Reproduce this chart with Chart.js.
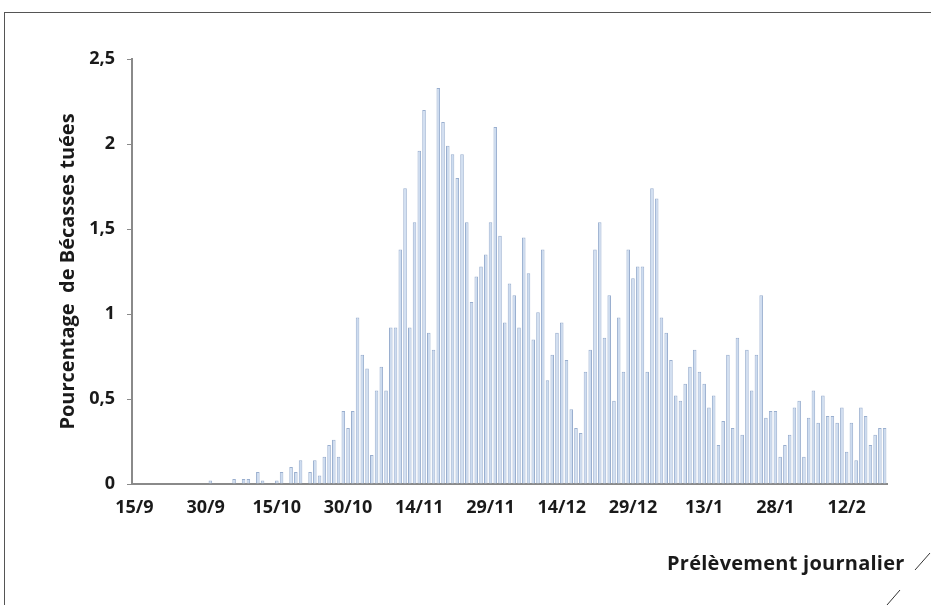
<!DOCTYPE html>
<html>
<head>
<meta charset="utf-8">
<script src="https://cdn.jsdelivr.net/npm/chart.js@4.4.1/dist/chart.umd.min.js"></script>
<style>
  html, body { margin: 0; padding: 0; background: #fff; }
  #wrap { position: relative; width: 931px; height: 605px; overflow: hidden; }
  #frame { position: absolute; left: 4px; top: 12px; width: 940px; height: 610px;
           border-top: 1px solid #555; border-left: 1px solid #555; }
  #xtitle { position: absolute; left: 667px; top: 549px; font: bold 20px "Open Sans", sans-serif;
            color: #1a1a1a; white-space: nowrap; letter-spacing: 0.25px; }
  canvas { position: absolute; left: 0; top: 0; }
  svg { position: absolute; left: 0; top: 0; }
</style>
</head>
<body>
<div id="wrap">
  <div id="frame"></div>
  <canvas id="chart" width="931" height="605"></canvas>
  <div id="xtitle">Prélèvement journalier</div>
  <svg width="931" height="605">
    <line x1="915" y1="570" x2="930" y2="553" stroke="#333" stroke-width="1"/>
    <line x1="887" y1="605" x2="900" y2="590" stroke="#333" stroke-width="1"/>
  </svg>
</div>
<script>
// daily share of woodcock shot, 15/9 -> 20/2
const startDay = new Date(2000, 8, 15);
const tickLabels = ['15/9','30/9','15/10','30/10','14/11','29/11','14/12','29/12','13/1','28/1','12/2'];
const values = [
  0,0,0,0,0,0,0,0,0,0,
  0,0,0,0,0,0,0.02,0,0,0,
  0,0.03,0,0.03,0.03,0,0.07,0.02,0,0,
  0.02,0.07,0,0.10,0.07,0.14,0,0.07,0.14,0.05,
  0.16,0.23,0.26,0.16,0.43,0.33,0.43,0.98,0.76,0.68,
  0.17,0.55,0.69,0.55,0.92,0.92,1.38,1.74,0.92,1.54,
  1.96,2.2,0.89,0.79,2.33,2.13,1.99,1.94,1.80,1.94,
  1.54,1.07,1.22,1.28,1.35,1.54,2.10,1.46,0.95,1.18,
  1.11,0.92,1.45,1.24,0.85,1.01,1.38,0.61,0.76,0.89,
  0.95,0.73,0.44,0.33,0.30,0.66,0.79,1.38,1.54,0.86,
  1.11,0.49,0.98,0.66,1.38,1.21,1.28,1.28,0.66,1.74,
  1.68,0.98,0.89,0.73,0.52,0.49,0.59,0.69,0.79,0.66,
  0.59,0.45,0.52,0.23,0.37,0.76,0.33,0.86,0.29,0.79,
  0.55,0.76,1.11,0.39,0.43,0.43,0.16,0.23,0.29,0.45,
  0.49,0.16,0.39,0.55,0.36,0.52,0.40,0.40,0.36,0.45,
  0.19,0.36,0.14,0.45,0.40,0.23,0.29,0.33,0.33
];
const days = [];
for (let i = 0; i < values.length; i++) {
  const d = new Date(startDay.getTime() + i * 86400000);
  days.push(d.getDate() + '/' + (d.getMonth() + 1));
}

const font = { family: '"Open Sans", sans-serif', weight: 'bold', size: 18 };

let chart = new Chart(document.getElementById('chart').getContext('2d'), {
  type: 'bar',
  data: {
    labels: days,
    datasets: [{
      data: values,
      backgroundColor: '#cddcf0',
      borderColor: '#9aafcf',
      borderWidth: 1,
      barPercentage: 0.75,
      categoryPercentage: 1.0
    }]
  },
  options: {
    responsive: false,
    animation: false,
    layout: { padding: { left: 56, top: 59, right: 44, bottom: 71 } },
    plugins: { legend: { display: false }, tooltip: { enabled: false } },
    scales: {
      x: {
        grid: { display: false, drawTicks: false },
        border: { display: true, color: '#8a8a8a', width: 2 },
        ticks: {
          autoSkip: false, maxRotation: 0, minRotation: 0, padding: 13,
          color: '#1a1a1a', font: font,
          callback: function(v, i) { return i % 15 === 0 ? tickLabels[i / 15] : null; }
        },
        afterFit: function(s) { s.height = 50; }
      },
      y: {
        min: 0, max: 2.5,
        grid: { drawOnChartArea: false, drawTicks: true, tickLength: 5, color: '#8a8a8a' },
        border: { display: true, color: '#8a8a8a', width: 2 },
        ticks: {
          stepSize: 0.5, padding: 12, color: '#1a1a1a', font: font,
          callback: function(v) { return String(v).replace('.', ','); }
        },
        title: {
          display: true, text: 'Pourcentage  de Bécasses tuées',
          color: '#1a1a1a', font: { family: '"Open Sans", sans-serif', weight: 'bold', size: 20 },
          padding: { top: 0, bottom: 0 }
        },
        afterFit: function(s) { s.width = 76; }
      }
    }
  }
});
</script>
</body>
</html>
